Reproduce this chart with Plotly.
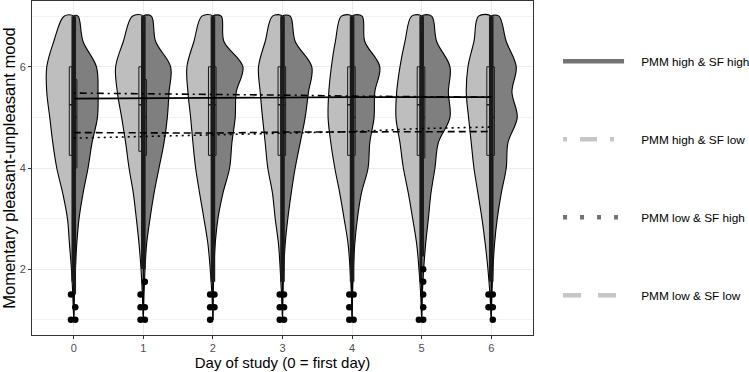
import plotly.graph_objects as go

# ---------------- data ----------------
days = [0, 1, 2, 3, 4, 5, 6]
day_labels = ["0", "1", "2", "3", "4", "5", "6"]

# mood levels at which violin half-widths were read (ascending)
levels = [1.0, 1.5, 2.0, 2.5, 3.0, 3.5, 4.0, 4.5, 5.0, 5.5, 6.0, 6.5, 7.0]

# relative density (half-width) of the light (left) half, per day
dens_left = [
    [0, 1.0, 2.3, 4.3, 6.3, 11.0, 17.0, 21.0, 24.0, 27.0, 27.0, 20.0, 9.7],
    [0, 1.0, 2.3, 4.3, 7.0, 10.0, 14.3, 17.7, 21.7, 26.0, 27.7, 20.0, 11.0],
    [0, 1.0, 2.7, 5.0, 9.0, 13.3, 17.3, 20.0, 22.3, 25.0, 26.0, 19.0, 11.0],
    [0, 1.0, 2.3, 4.0, 7.3, 10.0, 14.7, 17.3, 20.0, 22.3, 24.0, 17.3, 10.0],
    [0, 0.7, 2.0, 4.0, 8.0, 12.3, 17.3, 21.3, 24.0, 23.3, 20.7, 16.7, 10.7],
    [0, 1.0, 2.7, 5.0, 9.0, 13.3, 18.3, 21.7, 25.7, 25.0, 21.7, 16.7, 10.0],
    [0, 1.3, 3.3, 6.0, 9.3, 13.3, 17.3, 20.0, 22.7, 25.0, 23.3, 17.3, 12.7],
]
# relative density (half-width) of the dark (right) half, per day
dens_right = [
    [0, 0.7, 1.7, 3.0, 5.3, 9.3, 14.3, 18.3, 23.7, 24.3, 22.7, 9.3, 4.3],
    [0, 0.7, 1.7, 3.3, 6.7, 10.7, 15.7, 20.7, 24.0, 25.7, 27.3, 12.3, 8.0],
    [0, 0.3, 1.0, 2.3, 5.0, 10.0, 16.7, 19.0, 22.3, 23.3, 30.0, 11.0, 8.3],
    [0, 0.5, 1.3, 2.7, 5.3, 8.7, 12.7, 17.7, 22.7, 26.0, 29.3, 12.7, 7.7],
    [0, 0.5, 1.3, 2.7, 5.3, 9.3, 16.0, 17.7, 22.0, 22.7, 27.7, 12.7, 10.0],
    [0, 0.7, 2.0, 4.0, 6.7, 9.3, 13.3, 16.7, 28.3, 26.7, 28.3, 15.0, 10.0],
    [0, 0.7, 1.7, 3.3, 6.0, 10.0, 15.0, 16.7, 26.0, 20.7, 25.0, 15.0, 7.7],
]

# boxplot statistics (left = light half, right = dark half)
q1_left = [4.25, 4.33, 4.25, 4.25, 4.25, 4.25, 4.25]
med_left = [5.25, 5.25, 5.25, 5.25, 5.25, 5.25, 5.25]
q3_left = [6.0, 6.0, 6.0, 6.0, 6.0, 6.0, 6.0]
low_left = [1.75, 2.0, 1.75, 1.75, 1.75, 1.75, 1.75]
q1_right = [4.0, 4.25, 4.25, 4.25, 4.25, 4.2, 4.25]
med_right = [5.0, 5.0, 5.25, 5.25, 5.0, 5.0, 5.0]
q3_right = [5.75, 5.75, 6.0, 6.0, 6.0, 6.0, 6.0]
low_right = [1.5, 2.0, 1.75, 1.75, 1.75, 2.25, 1.75]
upper = [7.0, 7.0, 7.0, 7.0, 7.0, 7.0, 7.0]

out_left = [[1.0, 1.5], [1.0, 1.25, 1.5], [1.0, 1.25, 1.5], [1.0, 1.25, 1.5],
            [1.0, 1.25, 1.5], [1.0], [1.25, 1.5]]
out_right = [[1.0, 1.25], [1.0, 1.25, 1.75], [1.25, 1.5], [1.0, 1.25, 1.5],
             [1.0, 1.5], [1.0, 1.25, 1.5, 1.75, 2.0], [1.0, 1.25, 1.5]]

# group mean lines
groups = ["PMM high & SF high", "PMM high & SF low", "PMM low & SF high", "PMM low & SF low"]
mean_hh = [5.37, 5.38, 5.38, 5.39, 5.40, 5.40, 5.40]
mean_hl = [5.48, 5.47, 5.45, 5.44, 5.42, 5.41, 5.40]
mean_lh = [4.59, 4.62, 4.65, 4.69, 4.72, 4.78, 4.81]
mean_ll = [4.70, 4.70, 4.69, 4.71, 4.71, 4.72, 4.72]

# ---------------- styling ----------------
LIGHT = "#bebebe"
DARK = "#7f7f7f"
INK = "#1a1a1a"
FONT = "Liberation Sans, Arial, sans-serif"
DENS_TO_X = 1 / 69.6
OFF_BAND = 0.015
BOX_L = (-0.064, -0.024)
BOX_R = (-0.012, 0.045)
PT_L = -0.040
PT_R = 0.022

fig = go.Figure()

# violins
for i, d in enumerate(days):
    for dens, sign, col in ((dens_left[i], -1, LIGHT), (dens_right[i], 1, DARK)):
        xs = [d + sign * w * DENS_TO_X for w in dens] + [d for _ in levels[::-1]]
        ys = list(levels) + levels[::-1]
        fig.add_trace(go.Scatter(
            x=xs, y=ys, mode="lines", fill="toself", fillcolor=col,
            line=dict(color="black", width=1.1, shape="spline", smoothing=1.0),
            hoverinfo="skip", showlegend=False))

# boxes (drawn as rectangles so that they sit above the violins)
for q1, med, q3, (b0, b1), col in ((q1_left, med_left, q3_left, BOX_L, LIGHT),
                                    (q1_right, med_right, q3_right, BOX_R, DARK)):
    mx, my = [], []
    for i, d in enumerate(days):
        fig.add_trace(go.Scatter(
            x=[d + b0, d + b1, d + b1, d + b0, d + b0],
            y=[q1[i], q1[i], q3[i], q3[i], q1[i]],
            mode="lines", fill="toself", fillcolor=col,
            line=dict(color=INK, width=1), hoverinfo="skip", showlegend=False))
        mx += [d + b0, d + b1, None]
        my += [med[i], med[i], None]
    fig.add_trace(go.Scatter(x=mx, y=my, mode="lines", line=dict(color=INK, width=1.5),
                             hoverinfo="skip", showlegend=False))

# whisker band
for low, off in ((low_left, -OFF_BAND), (low_right, OFF_BAND)):
    xs, ys = [], []
    for i, d in enumerate(days):
        xs += [d + off, d + off, None]
        ys += [low[i], upper[i], None]
    fig.add_trace(go.Scatter(x=xs, y=ys, mode="lines",
                             line=dict(color=INK, width=2.5),
                             hoverinfo="skip", showlegend=False))

# outliers
for outs, off in ((out_left, PT_L), (out_right, PT_R)):
    xs, ys = [], []
    for i, d in enumerate(days):
        for v in outs[i]:
            xs.append(d + off)
            ys.append(v)
    fig.add_trace(go.Scatter(x=xs, y=ys, mode="markers",
                             marker=dict(color="black", size=6.5),
                             hoverinfo="skip", showlegend=False))

# mean lines (black in the panel)
plot_dash = ["solid", "2px,4px,7px,4px", "2px,4px", "7px,4px"]
for vals, dash in zip((mean_hh, mean_hl, mean_lh, mean_ll), plot_dash):
    fig.add_trace(go.Scatter(x=days, y=vals, mode="lines",
                             line=dict(color="black", width=1.6, dash=dash),
                             hoverinfo="skip", showlegend=False))

# legend keys (grey)
legend_col = ["#737373", "#c6c6c6", "#737373", "#c6c6c6"]
legend_dash = ["solid", "4px,13px,17px,13px", "4px,13px", "18px,17px"]
PAD = "\u00a0\u00a0\u00a0\u2009"
for k, (name, col, dash) in enumerate(zip(groups, legend_col, legend_dash)):
    fig.add_trace(go.Scatter(x=[None], y=[None], mode="lines", name=PAD + name,
                             legendgroup=name,
                             line=dict(color=col, width=4.5, dash=dash)))

fig.update_layout(
    width=749, height=372,
    margin=dict(l=32, r=216, t=1, b=37, autoexpand=False),
    paper_bgcolor="white", plot_bgcolor="white",
    font=dict(family=FONT, color="black"),
    showlegend=True,
    legend=dict(x=1.05, y=0.863, xanchor="left", yanchor="top",
                tracegroupgap=59, itemwidth=61, font=dict(size=11.8, color="black"),
                bgcolor="rgba(0,0,0,0)"),
)
fig.update_xaxes(
    range=[-0.6, 6.6], tickvals=days, ticktext=day_labels,
    showgrid=True, gridcolor="#ebebeb", gridwidth=1.2, zeroline=False,
    ticks="outside", ticklen=3, tickcolor="#333333",
    tickfont=dict(size=11, color="#4d4d4d"),
    showline=True, mirror=True, linecolor="#333333", linewidth=1,
    title=dict(text="Day of study (0 = first day)", font=dict(size=15, color="black"),
               standoff=4),
    automargin=False,
)
fig.update_yaxes(
    range=[0.7, 7.3], tickvals=[2, 4, 6], ticktext=["2", "4", "6"],
    showgrid=True, gridcolor="#ebebeb", gridwidth=1.2, zeroline=False,
    minor=dict(tickvals=[1, 3, 5, 7], showgrid=True, gridcolor="#f2f2f2",
               gridwidth=0.8, ticks=""),
    ticks="outside", ticklen=3, tickcolor="#333333",
    tickfont=dict(size=11, color="#4d4d4d"),
    showline=True, mirror=True, linecolor="#333333", linewidth=1,
    title=dict(text="Momentary pleasant-unpleasant mood",
               font=dict(size=16.5, color="black"), standoff=3),
    automargin=False,
)

fig.write_html("out.html", config={"displayModeBar": False},
               post_script="document.body.style.margin='0';")
